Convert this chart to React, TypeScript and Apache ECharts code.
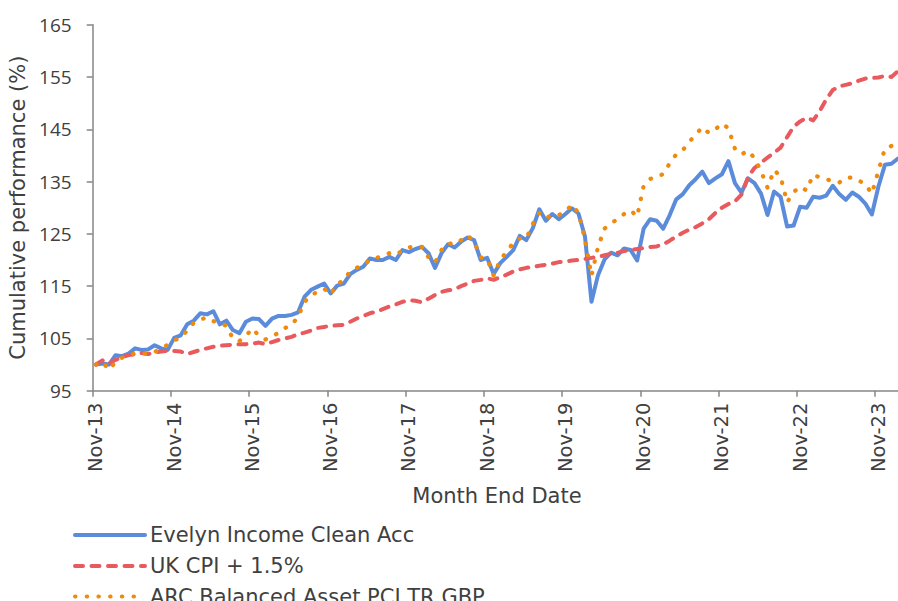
import React, { useEffect, useRef } from "react";
import * as echarts from "echarts";

// Monthly categories: Nov-13 .. Feb-24 (124 month ends)
const MONTH_NAMES = ["Jan", "Feb", "Mar", "Apr", "May", "Jun", "Jul", "Aug", "Sep", "Oct", "Nov", "Dec"];
const months: string[] = [];
for (let k = 0; k < 124; k++) {
  const m = (10 + k) % 12;
  const y = 13 + Math.floor((10 + k) / 12);
  months.push(`${MONTH_NAMES[m]}-${String(y).padStart(2, "0")}`);
}

const yTicks = [95, 105, 115, 125, 135, 145, 155, 165];

const seriesNames = ["Evelyn Income Clean Acc", "UK CPI + 1.5%", "ARC Balanced Asset PCI TR GBP"];

const evelyn = [
  100.0, 100.2, 100.0, 101.8, 101.6, 102.1, 103.1, 102.8, 102.9, 103.7,
  103.1, 102.8, 105.1, 105.6, 107.7, 108.4, 109.8, 109.6, 110.2, 107.7,
  108.4, 106.6, 106.0, 108.2, 108.8, 108.7, 107.4, 108.8, 109.3, 109.3,
  109.5, 110.0, 113.0, 114.3, 114.9, 115.5, 113.6, 115.1, 115.5, 117.3,
  118.1, 118.7, 120.3, 120.0, 120.0, 120.6, 120.0, 121.9, 121.5, 122.1,
  122.5, 121.3, 118.5, 121.3, 123.0, 122.4, 123.5, 124.3, 123.8, 120.0,
  120.4, 117.3, 119.4, 120.6, 121.9, 124.6, 123.8, 126.1, 129.7, 127.5,
  128.8, 127.8, 128.8, 129.9, 128.9, 124.5, 112.0, 117.1, 120.1, 121.4,
  120.9, 122.2, 121.9, 119.9, 126.0, 127.8, 127.5, 126.0, 128.6, 131.6,
  132.6, 134.3, 135.5, 136.9, 134.7, 135.6, 136.4, 138.9, 134.7, 132.9,
  135.6, 134.7, 132.7, 128.6, 133.1, 132.1, 126.4, 126.6, 130.2, 130.0,
  132.1, 131.9, 132.3, 134.2, 132.6, 131.5, 132.9, 132.1, 130.8, 128.7,
  134.0, 138.2, 138.4, 139.4,
];

const ukCpi = [
  100.0, 100.8, 100.2, 100.9, 101.4, 101.8, 102.0, 102.2, 102.0, 102.3,
  102.5, 102.6, 102.6, 102.5, 102.0, 102.4, 102.8, 103.1, 103.4, 103.6,
  103.7, 103.8, 103.9, 103.9, 104.0, 104.2, 103.9, 104.3, 104.7, 105.0,
  105.3, 105.8, 106.1, 106.5, 107.0, 107.2, 107.4, 107.5, 107.6, 108.2,
  108.8, 109.3, 109.8, 110.1, 110.6, 111.1, 111.5, 112.0, 112.3, 112.2,
  111.9, 112.6, 113.3, 113.9, 114.2, 114.4, 115.0, 115.5, 116.0, 116.2,
  116.5, 116.2, 116.7, 117.2, 117.8, 118.2, 118.5, 118.7, 118.9, 119.1,
  119.3, 119.6, 119.7, 119.9, 120.0, 120.2, 120.4, 120.6, 120.9, 121.2,
  121.4, 121.7, 121.9, 122.1, 122.3, 122.5, 122.6, 123.0, 123.7, 124.5,
  125.2, 125.8, 126.3, 127.0, 127.8, 129.0, 130.0, 130.7, 131.2, 132.5,
  135.8, 137.6, 138.6, 139.6, 140.5, 141.5, 143.5, 145.5, 146.5, 147.2,
  146.7, 148.5, 150.7, 152.5, 153.2, 153.5, 153.8, 154.3, 154.7, 154.8,
  154.9, 155.2, 155.0, 156.1,
];

const arc = [
  100.0, 100.5, 99.0, 100.5, 101.3, 101.8, 102.1, 102.2, 102.0, 102.4,
  103.0, 103.8, 104.6, 105.2, 106.5, 108.0, 108.6, 109.0, 108.3, 108.0,
  107.4, 105.0, 104.5, 105.5, 106.9, 105.5, 104.8, 105.5, 106.0, 107.0,
  107.5, 109.2, 112.0, 113.3, 113.9, 114.5, 113.4, 115.5, 116.0, 117.9,
  118.5, 119.0, 120.0, 120.4, 120.8, 121.3, 121.0, 121.8, 122.4, 122.6,
  122.5, 120.5, 119.5, 121.9, 123.2, 123.0, 123.8, 124.7, 123.5, 120.5,
  120.2, 117.0, 120.0, 121.6, 123.3, 124.1, 124.1, 126.9, 129.0, 128.0,
  128.6, 128.6, 129.2, 130.6, 129.0, 124.0, 117.0, 122.5, 126.0, 127.0,
  127.8, 128.8, 129.5, 128.3, 134.2, 135.5, 136.0, 136.4, 138.5, 140.2,
  141.0, 142.6, 144.0, 145.4, 144.3, 145.0, 146.1, 145.2, 141.3, 140.2,
  140.9, 139.5, 137.0, 133.8, 137.2, 136.0, 131.0, 133.0, 134.0, 133.3,
  136.3, 135.8, 135.5, 135.0, 134.8, 135.7, 135.8, 135.2, 134.5, 132.7,
  137.0, 141.3, 141.8, 142.5,
];

const TEXT = "#404040";
const AXIS = "#868686";
const COLORS = ["#5B8BDB", "#E85A5E", "#EE8A0C"];
const LINE_TYPES: any[] = ["solid", [8, 8.5], [0.5, 11.2]];

export default function App() {
  const ref = useRef<HTMLDivElement>(null);
  useEffect(() => {
    if (!ref.current) return;
    const chart = echarts.init(ref.current, null, { renderer: "svg" });
    const legendTops = [519.5, 550.5, 581];
    chart.setOption({
      animation: false,
      backgroundColor: "#ffffff",
      textStyle: { fontFamily: "DejaVu Sans", color: TEXT },
      grid: {
        left: 92.7,
        top: 24.7,
        right: -3.2,
        bottom: 210.3,
        containLabel: false,
        outerBoundsMode: "none",
      },
      legend: seriesNames.map((name, i) => ({
        orient: "vertical",
        left: 68,
        top: legendTops[i],
        itemWidth: 70,
        itemHeight: 20,
        itemGap: 10,
        selectedMode: false,
        textStyle: { fontSize: 21, color: TEXT, fontFamily: "DejaVu Sans" },
        itemStyle: { opacity: 0, borderWidth: 0 },
        lineStyle: { width: 4 },
        data: [name],
      })),
      xAxis: {
        type: "category",
        data: months,
        boundaryGap: true,
        name: "Month End Date",
        nameLocation: "middle",
        nameGap: 95,
        nameTextStyle: { fontSize: 21, color: TEXT, fontFamily: "DejaVu Sans" },
        axisLine: { lineStyle: { color: AXIS, width: 1.5 } },
        axisTick: { show: true, interval: 11, length: 6, lineStyle: { color: AXIS, width: 1.5 } },
        axisLabel: { interval: 11, rotate: 90, margin: 12, fontSize: 19.5, color: TEXT, fontFamily: "DejaVu Sans" },
        splitLine: { show: false },
      },
      yAxis: {
        type: "value",
        min: 95,
        max: 165,
        name: "Cumulative performance (%)",
        nameLocation: "middle",
        nameGap: 53,
        nameTextStyle: { fontSize: 21, color: TEXT, fontFamily: "DejaVu Sans" },
        axisLine: { show: true, lineStyle: { color: AXIS, width: 1.5 } },
        axisTick: { show: true, length: 6, customValues: yTicks, lineStyle: { color: AXIS, width: 1.5 } },
        axisLabel: { customValues: yTicks, margin: 21, fontSize: 19, color: TEXT, fontFamily: "Open Sans" },
        splitLine: { show: false },
      },
      series: [evelyn, ukCpi, arc].map((data, i) => ({
        name: seriesNames[i],
        type: "line",
        data,
        symbol: "none",
        color: COLORS[i],
        lineStyle: {
          color: COLORS[i],
          width: i === 2 ? 4.2 : 4,
          type: LINE_TYPES[i],
          cap: "round",
          join: "round",
        },
      })),
    });
    return () => chart.dispose();
  }, []);
  return (
    <div
      ref={ref}
      style={{ position: "fixed", left: 0, top: 0, width: 898, height: 601, background: "#fff" }}
    />
  );
}
